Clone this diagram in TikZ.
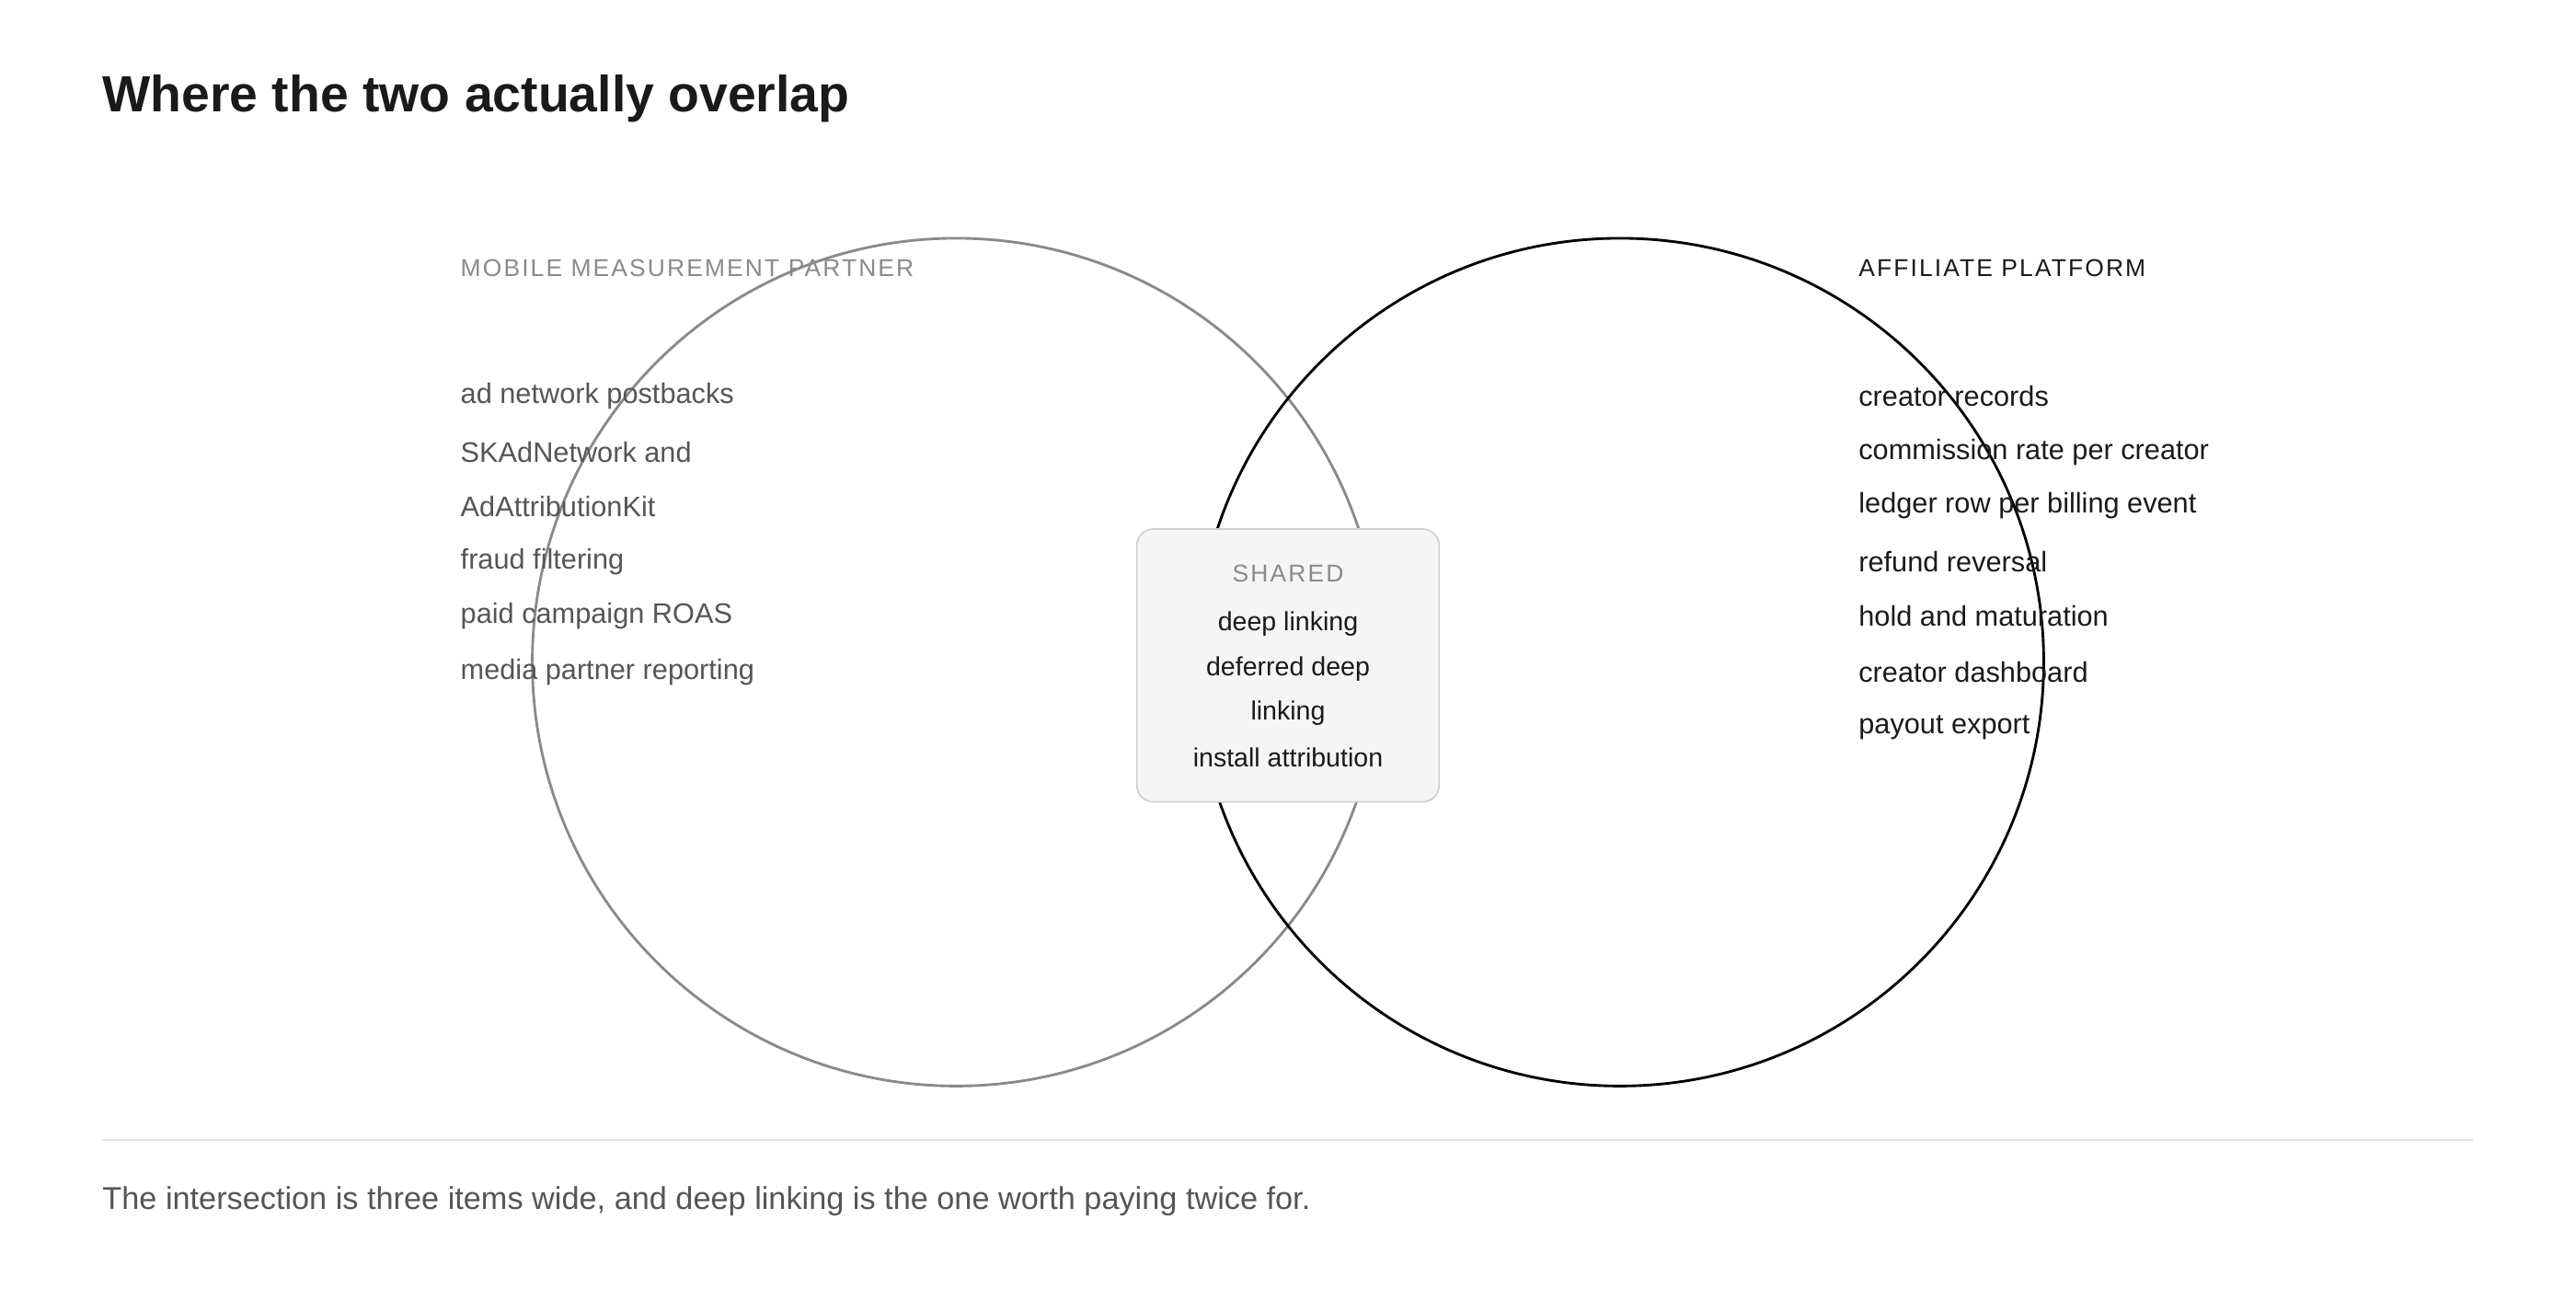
\documentclass[tikz,border=0pt]{standalone}
\usepackage{fontspec}
\setmainfont{Liberation Sans}
\usepackage{tikz}
\usetikzlibrary{calc}
\definecolor{ink}{HTML}{1A1A1A}
\definecolor{mute}{HTML}{555555}
\definecolor{faint}{HTML}{8A8A8A}
\def\leftitem{\node[anchor=west,text=mute,font=\fontsize{8.6}{10}\selectfont,inner sep=0pt]}
\def\rightitem{\node[anchor=west,text=ink,font=\fontsize{8.6}{10}\selectfont,inner sep=0pt]}
\def\capsfont{\fontsize{7.4}{9}\selectfont\addfontfeatures{LetterSpace=8}}

\begin{document}
\begin{tikzpicture}[x=0.5pt,y=-0.5pt]
\useasboundingbox (0,0) rectangle (1568,784);
\node[anchor=west,text=ink,font=\fontsize{15.5}{18}\bfseries\selectfont,inner sep=0pt] (title) at (62,60) {Where the two actually overlap};

% ---------- the two sets
\coordinate (lc) at (582,403);
\coordinate (rc) at (986,403);
\draw[color=faint, line width=0.8pt] (lc) circle (258);
\draw[color=black, line width=0.8pt] (rc) circle (258);

% ---------- left set
\node[anchor=west,text=faint,font=\capsfont,inner sep=0pt] (lhead) at (280,163) {MOBILE MEASUREMENT PARTNER};
\leftitem (l1) at (280,241) {ad network postbacks};
\leftitem (l2) at (280,275) {SKAdNetwork and};
\leftitem (l3) at (280,308) {AdAttributionKit};
\leftitem (l4) at (280,342) {fraud filtering};
\leftitem (l5) at (280,375) {paid campaign ROAS};
\leftitem (l6) at (280,409) {media partner reporting};

% ---------- right set
\node[anchor=west,text=ink,font=\capsfont,inner sep=0pt] (rhead) at (1131,163) {AFFILIATE PLATFORM};
\rightitem (r1) at (1131,241) {creator records};
\rightitem (r2) at (1131,275) {commission rate per creator};
\rightitem (r3) at (1131,308) {ledger row per billing event};
\rightitem (r4) at (1131,342) {refund reversal};
\rightitem (r5) at (1131,375) {hold and maturation};
\rightitem (r6) at (1131,409) {creator dashboard};
\rightitem (r7) at (1131,443) {payout export};

% ---------- the intersection
\draw[fill=black!4, draw=black!18, line width=0.5pt, rounded corners=5pt] (692,322) rectangle (876,488);
\node[text=faint,font=\capsfont,inner sep=0pt] (shead) at (784,349) {SHARED};
\foreach \t [count=\i] in {deep linking, deferred deep, linking, install attribution}
  \node[text=ink,font=\fontsize{8}{10}\selectfont,inner sep=0pt] (s\i) at (784,{380+27*(\i-1)}) {\t};

% ---------- footer
\coordinate (ruleL) at (62,694);
\coordinate (ruleR) at (1505,694);
\draw[color=black!12, line width=0.6pt] (ruleL) -- (ruleR);
\node[anchor=west,text=mute,font=\fontsize{9.6}{12}\selectfont,inner sep=0pt] (caption) at (62,731) {The intersection is three items wide, and deep linking is the one worth paying twice for.};
\end{tikzpicture}
\end{document}
